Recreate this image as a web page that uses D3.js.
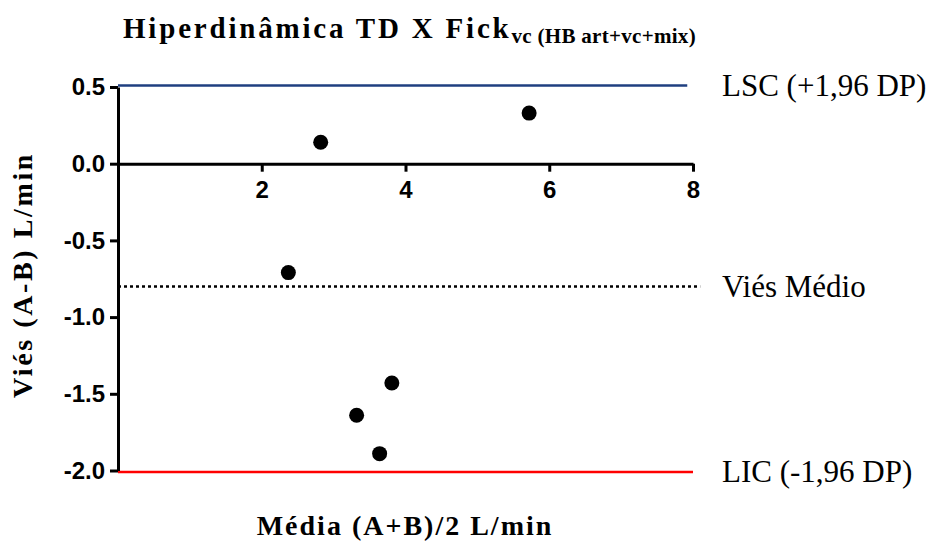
<!DOCTYPE html>
<html>
<head>
<meta charset="utf-8">
<script src="https://cdn.jsdelivr.net/npm/d3@7"></script>
<style>
  html, body { margin: 0; padding: 0; background: #fff; }
  svg { display: block; }
</style>
</head>
<body>
<svg id="chart" width="936" height="543"></svg>
<script>
// ---- data ----
const meanAB = [2.82, 5.72, 2.37, 3.81, 3.32, 3.64];
const diffAB = [0.14, 0.33, -0.71, -1.43, -1.64, -1.89];
const xTicks = [2, 4, 6, 8];
const yTicks = [0.5, 0.0, -0.5, -1.0, -1.5, -2.0];
const refNames = ["LSC (+1,96 DP)", "Viés Médio", "LIC (-1,96 DP)"];
const refValues = [0.51, -0.80, -2.01];
const refEnds = [7.92, 8.1, 8.0];

const svg = d3.select("#chart");
const x = d3.scaleLinear().domain([0, 8]).range([118, 693]);
const y = d3.scaleLinear().domain([-2, 0.5]).range([470.5, 87]);

const serif = "'Liberation Serif', 'Times New Roman', serif";
const sans = "'Liberation Sans', Arial, sans-serif";

// reference lines
const refStyle = [
  { stroke: "#1f3f80", width: 2.5, dash: null },
  { stroke: "#000", width: 2.5, dash: "3,3" },
  { stroke: "#ff0000", width: 2.5, dash: null }
];
svg.append("g").selectAll("line").data(refValues).join("line")
  .attr("x1", x(0))
  .attr("x2", (d, i) => x(refEnds[i]))
  .attr("y1", d => y(d))
  .attr("y2", d => y(d))
  .attr("stroke", (d, i) => refStyle[i].stroke)
  .attr("stroke-width", (d, i) => refStyle[i].width)
  .attr("stroke-dasharray", (d, i) => refStyle[i].dash);

// y axis
const yAxis = d3.axisLeft(y).tickValues(yTicks).tickSize(8).tickSizeOuter(0);
const gy = svg.append("g").attr("transform", `translate(${x(0)},0)`).call(yAxis);
gy.attr("font-size", null).attr("font-family", null);
gy.select(".domain").attr("stroke", "#000").attr("stroke-width", 3);
gy.selectAll(".tick line").attr("stroke", "#000").attr("stroke-width", 3);
gy.selectAll(".tick text")
  .style("font-family", sans).style("font-weight", "bold").style("font-size", "24px")
  .attr("fill", "#000").attr("x", -13)
  .text(d => d3.format(".1f")(d).replace("−", "-"));

// x axis at y = 0
const xAxis = d3.axisBottom(x).tickValues(xTicks).tickFormat(d3.format("d")).tickSize(8).tickSizeOuter(0);
const gx = svg.append("g").attr("transform", `translate(0,${y(0)})`).call(xAxis);
gx.attr("font-size", null).attr("font-family", null);
gx.select(".domain").attr("stroke", "#000").attr("stroke-width", 3);
gx.selectAll(".tick line").attr("stroke", "#000").attr("stroke-width", 3);
gx.selectAll(".tick text")
  .style("font-family", sans).style("font-weight", "bold").style("font-size", "24px")
  .attr("fill", "#000").attr("y", 17);

// points
svg.append("g").selectAll("circle").data(meanAB).join("circle")
  .attr("cx", d => x(d))
  .attr("cy", (d, i) => y(diffAB[i]))
  .attr("r", 7.5)
  .attr("fill", "#000");

// right labels
svg.append("g").selectAll("text").data(refNames).join("text")
  .attr("x", 722)
  .attr("y", (d, i) => y(refValues[i]))
  .attr("dy", "0.33em")
  .attr("font-family", serif).attr("font-size", 31)
  .attr("fill", "#000")
  .text(d => d);

// title
const title = svg.append("text")
  .attr("x", 123).attr("y", 38)
  .attr("font-family", serif).attr("font-weight", "bold").attr("font-size", 29)
  .attr("letter-spacing", 2.8).attr("fill", "#000");
title.append("tspan").text("Hiperdinâmica TD X Fick");
title.append("tspan").attr("font-size", 21).attr("dy", 5).attr("letter-spacing", 0.3).text("vc (HB art+vc+mix)");

// y axis title
svg.append("text")
  .attr("transform", "translate(32,275) rotate(-90)")
  .attr("text-anchor", "middle")
  .attr("font-family", serif).attr("font-weight", "bold").attr("font-size", 28)
  .attr("letter-spacing", 2.6)
  .attr("fill", "#000")
  .text("Viés (A-B) L/min");

// x axis title
svg.append("text")
  .attr("x", 405).attr("y", 535)
  .attr("text-anchor", "middle")
  .attr("font-family", serif).attr("font-weight", "bold").attr("font-size", 28)
  .attr("letter-spacing", 2)
  .attr("fill", "#000")
  .text("Média (A+B)/2 L/min");
</script>
</body>
</html>
